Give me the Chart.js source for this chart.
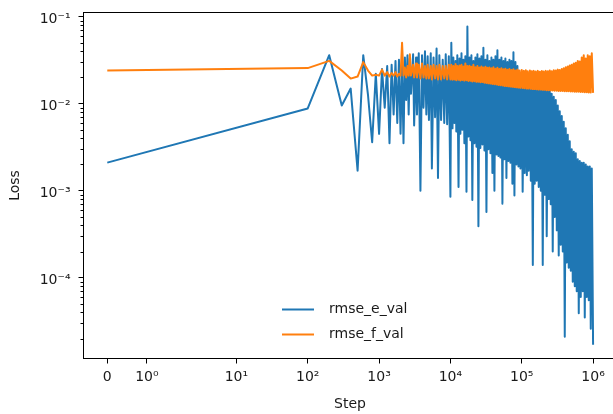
<!DOCTYPE html>
<html>
<head>
<meta charset="utf-8">
<script src="https://cdn.jsdelivr.net/npm/chart.js@4.4.1/dist/chart.umd.min.js"></script>
<style>
html, body { margin: 0; padding: 0; background: #fff; overflow: hidden; }
#wrap { width: 625px; height: 414px; }
</style>
</head>
<body>
<div id="wrap"><canvas id="lossChart" width="625" height="414"></canvas></div>
<script>
// validation loss vs step (the dense part is kept as its high/low envelope)
var steps = [
    0, 100, 200, 300, 400, 500, 600, 700, 800, 900, 1000,
    1100, 1200, 1300, 1400, 1500, 1600, 1700, 1800, 1900, 2000,
    2100, 2200, 2300, 2400, 2500, 2600, 2700, 2800, 3000, 3100,
    3300, 3400, 3600, 3800, 4000, 4200, 4400, 4600, 4800, 5000,
    5300, 5500, 5800, 6100, 6400, 6700, 7000, 7400, 7800, 8200,
    8600, 9000, 9500,
    10000, 10300, 10700, 11000, 11400, 11800, 12100, 12500, 13000, 13400,
    13800, 14300, 14700, 15200, 15700, 16200, 16800, 17300, 17900, 18500,
    19100, 19700, 20300, 21000, 21700, 22400, 23200, 23900, 24700, 25500,
    26300, 27200, 28100, 29000, 30000, 31000, 32000, 33000, 34100, 35200,
    36400, 37600, 38800, 40100, 41400, 42800, 44200, 45600, 47100, 48700,
    50200, 51900, 53600, 55400, 57200, 59000, 61000, 63000, 65100, 67200,
    69400, 71700, 74000, 76500, 79000, 81600, 84200, 87000, 89900, 92800,
    95900,
    100000, 103000, 107000, 110000, 114000, 118000, 121000, 125000, 130000, 134000,
    138000, 143000, 147000, 152000, 157000, 162000, 168000, 173000, 179000, 185000,
    191000, 197000, 203000, 210000, 217000, 224000, 232000, 239000, 247000, 255000,
    263000, 272000, 281000, 290000, 300000, 310000, 320000, 330000, 341000, 352000,
    364000, 376000, 388000, 401000, 414000, 428000, 442000, 456000, 471000, 487000,
    502000, 519000, 536000, 554000, 572000, 590000, 610000, 630000, 651000, 672000,
    694000, 717000, 740000, 765000, 790000, 816000, 842000, 870000, 899000, 928000,
    959000, 1000000
];

var rmseEVal = [
    0.0021, 0.0088, 0.036, 0.0095, 0.0149, 0.0017, 0.036, 0.0125, 0.0036, 0.022, 0.0045,
    0.025, 0.009, 0.027, 0.0035, 0.028, 0.0075, 0.031, 0.006, 0.032, 0.0045,
    0.030, 0.0035, 0.034, 0.011, 0.036, 0.0075, 0.033, 0.013, 0.037, 0.0056,
    0.034, 0.0075, 0.038, 0.001, 0.036, 0.009, 0.04, 0.0075, 0.035, 0.0065,
    0.038, 0.0018, 0.034, 0.007, 0.043, 0.0014, 0.036, 0.0065, 0.032, 0.006,
    0.037, 0.0058, 0.035,
    0.00085, 0.05, 0.0052, 0.034, 0.006, 0.031, 0.0048, 0.036, 0.0011, 0.033,
    0.0045, 0.038, 0.005, 0.032, 0.0035, 0.035, 0.00097, 0.077, 0.0042, 0.034,
    0.0038, 0.036, 0.00078, 0.031, 0.0035, 0.034, 0.0032, 0.037, 0.00039, 0.033,
    0.0031, 0.035, 0.0034, 0.044, 0.0029, 0.032, 0.00057, 0.036, 0.003, 0.031,
    0.0027, 0.034, 0.0016, 0.032, 0.001, 0.035, 0.0026, 0.041, 0.0025, 0.032,
    0.0024, 0.034, 0.00071, 0.031, 0.0023, 0.033, 0.0014, 0.03, 0.0022, 0.032,
    0.0021, 0.031, 0.0012, 0.039, 0.00088, 0.03, 0.002, 0.027, 0.0019, 0.022,
    0.0018,
    0.021, 0.00097, 0.02, 0.0016, 0.021, 0.0015, 0.019, 0.0017, 0.02,
    0.0013, 0.019, 0.00014, 0.018, 0.0012, 0.019, 0.0013, 0.018, 0.0011, 0.0185,
    0.001, 0.017, 0.00014, 0.017, 0.0009, 0.016, 0.0003, 0.016, 0.0008, 0.015,
    0.0007, 0.013, 0.0002, 0.012, 0.0005, 0.011, 0.00035, 0.0095, 0.00018, 0.0082,
    0.00024, 0.0072, 0.0002, 0.0062, 0.000021, 0.0052, 0.00015, 0.0044, 0.00013, 0.0037,
    0.00012, 0.003, 0.00009, 0.0028, 0.00008, 0.0027, 0.00007, 0.0023, 0.000039, 0.0022,
    0.00006, 0.0021, 0.00007, 0.0021, 0.000035, 0.002, 0.00006, 0.0019, 0.000055, 0.0019,
    0.000026, 0.0018, 0.000017
];

var rmseFVal = [
    0.024, 0.0256, 0.031, 0.024, 0.0194, 0.0205, 0.030, 0.024, 0.021, 0.0215, 0.021,
    0.0246, 0.021, 0.023, 0.0205, 0.0225, 0.021, 0.023, 0.0205, 0.022, 0.021,
    0.05, 0.021, 0.026, 0.02, 0.027, 0.021, 0.037, 0.021, 0.028, 0.02,
    0.029, 0.02, 0.028, 0.0195, 0.029, 0.02, 0.027, 0.0195, 0.028, 0.0195,
    0.027, 0.019, 0.028, 0.0195, 0.027, 0.019, 0.028, 0.019, 0.027, 0.0195,
    0.027, 0.019, 0.028,
    0.019, 0.028, 0.0188, 0.027, 0.019, 0.0285, 0.0186, 0.027, 0.0188, 0.0275,
    0.0185, 0.028, 0.0187, 0.0268, 0.0184, 0.029, 0.0186, 0.027, 0.0182, 0.0272,
    0.0183, 0.0265, 0.018, 0.028, 0.0181, 0.0262, 0.0178, 0.027, 0.0179, 0.026,
    0.0176, 0.0268, 0.0177, 0.026, 0.0174, 0.0265, 0.0173, 0.0258, 0.0171, 0.026,
    0.017, 0.0255, 0.0168, 0.0262, 0.0167, 0.0252, 0.0166, 0.0258, 0.0164, 0.025,
    0.0163, 0.0255, 0.0162, 0.0248, 0.016, 0.0252, 0.0159, 0.0245, 0.0158, 0.025,
    0.0157, 0.0243, 0.0156, 0.0248, 0.0155, 0.024, 0.0154, 0.0246, 0.0153, 0.024,
    0.0152,
    0.0244, 0.0151, 0.0238, 0.015, 0.0242, 0.0149, 0.0236, 0.0149, 0.024,
    0.0148, 0.0235, 0.0147, 0.0238, 0.0147, 0.0234, 0.0146, 0.0238, 0.0145, 0.0233,
    0.0145, 0.0237, 0.0144, 0.0234, 0.0144, 0.0238, 0.0143, 0.0235, 0.0143, 0.024,
    0.0142, 0.0236, 0.0142, 0.0242, 0.0141, 0.024, 0.0141, 0.0246, 0.014, 0.0244,
    0.014, 0.025, 0.014, 0.0255, 0.0139, 0.0262, 0.0139, 0.0268, 0.0139, 0.0275,
    0.0138, 0.028, 0.0138, 0.029, 0.0137, 0.0295, 0.0137, 0.031, 0.0137, 0.0305,
    0.0136, 0.034, 0.0136, 0.036, 0.0135, 0.033, 0.0135, 0.036, 0.0134, 0.035,
    0.0134, 0.038, 0.0133
];

var seriesLabels = ['rmse_e_val', 'rmse_f_val'];
var xTickValues = [0, 1, 10, 100, 1000, 10000, 100000, 1000000];
var xTickLabels = ['0', '10⁰', '10¹', '10²', '10³', '10⁴', '10⁵', '10⁶'];
var yTickValues = [1e-4, 1e-3, 1e-2, 1e-1];
var yTickLabels = ['10⁻⁴', '10⁻³', '10⁻²', '10⁻¹'];

// matplotlib style symlog axis (linthresh 2, linscale 1, base 10)
var LINTHRESH = 2;
var LINSCALE = 1 / (1 - 1 / 10);

function symlog(v) {
    var a = Math.abs(v);
    if (a <= LINTHRESH) return v * LINSCALE;
    return Math.sign(v) * LINTHRESH * (LINSCALE + Math.log10(a / LINTHRESH));
}

function symexp(t) {
    var a = Math.abs(t);
    if (a <= LINTHRESH * LINSCALE) return t / LINSCALE;
    return Math.sign(t) * LINTHRESH * Math.pow(10, a / LINTHRESH - LINSCALE);
}

class SymlogScale extends Chart.Scale {
    determineDataLimits() {
        var mm = this.getMinMax(false);
        this.min = this.options.min != null ? this.options.min : mm.min;
        this.max = this.options.max != null ? this.options.max : mm.max;
    }
    buildTicks() {
        return xTickValues.map(function (v) { return { value: v }; });
    }
    getLabelForValue(v) {
        return String(v);
    }
    configure() {
        super.configure();
        this._tStart = symlog(this.min);
        this._tRange = symlog(this.max) - this._tStart;
    }
    getPixelForValue(v) {
        return this.getPixelForDecimal((symlog(v) - this._tStart) / this._tRange);
    }
    getValueForPixel(p) {
        return symexp(this._tStart + this.getDecimalForPixel(p) * this._tRange);
    }
}
SymlogScale.id = 'symlog';
SymlogScale.defaults = {};
Chart.register(SymlogScale);

// minor log ticks on the y axis
var yMinor = [];
[-5, -4, -3, -2].forEach(function (e) {
    for (var m = 2; m <= 9; m++) yMinor.push(m * Math.pow(10, e));
});

var frameAndMinor = {
    id: 'frameAndMinor',
    afterDraw: function (chart) {
        var ctx = chart.ctx, a = chart.chartArea, ys = chart.scales.y;
        ctx.save();
        ctx.strokeStyle = '#000';
        ctx.lineWidth = 1;
        yMinor.forEach(function (v) {
            if (v < ys.min || v > ys.max) return;
            var py = Math.round(ys.getPixelForValue(v)) + 0.5;
            ctx.beginPath();
            ctx.moveTo(a.left - 3, py);
            ctx.lineTo(a.left, py);
            ctx.stroke();
        });
        ctx.strokeRect(a.left, a.top, a.right - a.left, a.bottom - a.top);
        ctx.restore();
    }
};

var innerLegend = {
    id: 'innerLegend',
    afterDraw: function (chart) {
        var ctx = chart.ctx;
        ctx.save();
        chart.data.datasets.forEach(function (ds, i) {
            var y = 309.5 + i * 25;
            ctx.strokeStyle = ds.borderColor;
            ctx.lineWidth = 2;
            ctx.beginPath();
            ctx.moveTo(282, y);
            ctx.lineTo(314, y);
            ctx.stroke();
            ctx.fillStyle = '#1a1a1a';
            ctx.font = '14px "DejaVu Sans"';
            ctx.textBaseline = 'middle';
            ctx.fillText(ds.label, 329, y);
        });
        ctx.restore();
    }
};

function toPoints(ys) {
    return steps.map(function (s, i) { return { x: s, y: ys[i] }; });
}

Chart.defaults.font.family = 'DejaVu Sans';
Chart.defaults.font.size = 14;
Chart.defaults.color = '#1a1a1a';

var ctx = document.getElementById('lossChart').getContext('2d');
var lossChart = new Chart(ctx, {
    type: 'line',
    data: {
        datasets: [{
            label: seriesLabels[0],
            data: toPoints(rmseEVal),
            borderColor: '#1f77b4',
            borderWidth: 2,
            order: 2
        }, {
            label: seriesLabels[1],
            data: toPoints(rmseFVal),
            borderColor: '#ff7f0e',
            borderWidth: 2,
            order: 1
        }]
    },
    plugins: [frameAndMinor, innerLegend],
    options: {
        responsive: false,
        animation: false,
        events: [],
        layout: { autoPadding: false, padding: { left: 0, right: 8.5, top: 12.5, bottom: 0 } },
        elements: {
            point: { radius: 0 },
            line: { tension: 0, borderJoinStyle: 'round', fill: false }
        },
        plugins: { legend: { display: false }, tooltip: { enabled: false } },
        scales: {
            x: {
                type: 'symlog',
                min: -0.6,
                max: 2130000,
                border: { display: false },
                grid: { drawOnChartArea: false, drawTicks: true, tickLength: 5, tickColor: '#000', tickWidth: 1 },
                ticks: {
                    autoSkip: false, maxRotation: 0, padding: 5,
                    callback: function (v, i) { return xTickLabels[i]; }
                },
                title: { display: true, text: 'Step', padding: { top: 0, bottom: 1 } },
                afterFit: function (s) { s.height = 55.5; s.paddingLeft = 0; s.paddingRight = 0; }
            },
            y: {
                type: 'logarithmic',
                min: 1.18e-5,
                max: 0.1115,
                bounds: 'data',
                border: { display: false },
                grid: { drawOnChartArea: false, drawTicks: true, tickLength: 5, tickColor: '#000', tickWidth: 1 },
                afterBuildTicks: function (s) {
                    s.ticks = yTickValues.map(function (v) { return { value: v, major: true }; });
                },
                ticks: {
                    padding: 8, labelOffset: 3,
                    callback: function (v) {
                        var k = yTickValues.indexOf(v);
                        return k >= 0 ? yTickLabels[k] : '';
                    }
                },
                title: { display: true, text: 'Loss', padding: { top: 6.6, bottom: 0 } },
                afterFit: function (s) { s.width = 83.5; s.paddingTop = 0; s.paddingBottom = 0; }
            }
        }
    }
});
</script>
</body>
</html>
